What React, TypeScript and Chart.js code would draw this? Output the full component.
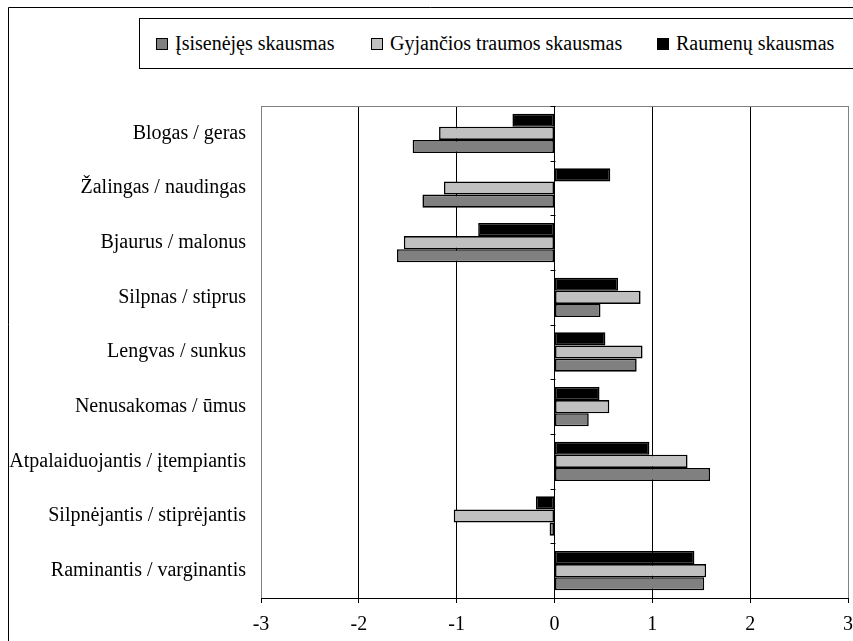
import React, { useEffect, useRef } from 'react';
import { Chart, registerables } from 'chart.js';

Chart.register(...registerables);

const categories = [
  'Blogas / geras',
  'Žalingas / naudingas',
  'Bjaurus / malonus',
  'Silpnas / stiprus',
  'Lengvas / sunkus',
  'Nenusakomas / ūmus',
  'Atpalaiduojantis / įtempiantis',
  'Silpnėjantis / stiprėjantis',
  'Raminantis / varginantis',
];

const seriesNames = ['Įsisenėjęs skausmas', 'Gyjančios traumos skausmas', 'Raumenų skausmas'];
const seriesColors = ['#808080', '#c0c0c0', '#000000'];

const chronicPain = [-1.45, -1.35, -1.61, 0.47, 0.84, 0.35, 1.59, -0.05, 1.53];
const injuryPain = [-1.18, -1.13, -1.54, 0.88, 0.9, 0.56, 1.36, -1.03, 1.55];
const musclePain = [-0.43, 0.57, -0.78, 0.65, 0.52, 0.46, 0.97, -0.19, 1.43];

const xTicks = [-3, -2, -1, 0, 1, 2, 3];

const FONT_FAMILY = '"Liberation Serif", "Times New Roman", serif';

const decorPlugin = {
  id: 'decor',
  beforeDatasetsDraw(chart: any) {
    const { ctx, chartArea: a, scales } = chart;
    ctx.save();
    ctx.lineWidth = 1;
    // top border of plot area
    ctx.strokeStyle = '#808080';
    const ty = Math.round(a.top) + 0.5;
    ctx.beginPath();
    ctx.moveTo(a.left, ty);
    ctx.lineTo(a.right, ty);
    ctx.stroke();
    // tick marks on the zero line at category boundaries
    const x0 = Math.round(scales.x.getPixelForValue(0)) + 0.5;
    const n = categories.length;
    const yScale = scales.y;
    ctx.strokeStyle = '#000';
    for (let k = 0; k <= n; k++) {
      let y;
      if (k === 0) y = a.top;
      else if (k === n) y = a.bottom;
      else y = (yScale.getPixelForTick(k - 1) + yScale.getPixelForTick(k)) / 2;
      y = Math.round(y) + 0.5;
      ctx.beginPath();
      ctx.moveTo(x0 - 5, y);
      ctx.lineTo(x0, y);
      ctx.stroke();
    }
    ctx.restore();
  },
  afterDraw(chart: any) {
    const { ctx, width, height } = chart;
    ctx.save();
    ctx.strokeStyle = '#000';
    ctx.lineWidth = 1;
    ctx.beginPath();
    ctx.moveTo(8.5, height);
    ctx.lineTo(8.5, 7.5);
    ctx.lineTo(width, 7.5);
    ctx.stroke();
    ctx.restore();
  },
};

const legendItems = [
  { name: seriesNames[0], color: seriesColors[0], left: 156 },
  { name: seriesNames[1], color: seriesColors[1], left: 371 },
  { name: seriesNames[2], color: seriesColors[2], left: 657 },
];

export default function App() {
  const canvasRef = useRef<HTMLCanvasElement | null>(null);

  useEffect(() => {
    const canvas = canvasRef.current;
    if (!canvas) return;
    const font = { family: FONT_FAMILY, size: 20 };
    const chart = new Chart(canvas, {
      type: 'bar',
      data: {
        labels: categories,
        datasets: [
          { label: seriesNames[2], data: musclePain, backgroundColor: seriesColors[2] },
          { label: seriesNames[1], data: injuryPain, backgroundColor: seriesColors[1] },
          { label: seriesNames[0], data: chronicPain, backgroundColor: seriesColors[0] },
        ].map((d) => ({
          ...d,
          borderColor: '#000',
          borderWidth: 1.6,
          borderSkipped: false,
          barPercentage: 1,
          categoryPercentage: 0.72,
        })),
      },
      options: {
        indexAxis: 'y',
        responsive: false,
        animation: false,
        layout: { padding: { top: 106, right: 5, left: 0, bottom: 0 } },
        plugins: {
          legend: { display: false },
          tooltip: { enabled: false },
        },
        scales: {
          x: {
            type: 'linear',
            min: -3,
            max: 3,
            afterBuildTicks: (s: any) => {
              s.ticks = xTicks.map((v) => ({ value: v }));
            },
            ticks: {
              color: '#000',
              font,
              padding: 10,
              maxRotation: 0,
              callback: (v: any) => String(v),
            },
            grid: {
              color: (c: any) => (c.tick && Math.abs(c.tick.value) === 3 ? '#808080' : '#000'),
              tickColor: '#000',
              tickLength: 5,
              lineWidth: 1,
            },
            border: { color: '#000', width: 1 },
            afterFit: (s: any) => {
              s.height = 43;
              s.paddingLeft = 0;
              s.paddingRight = 0;
            },
          },
          y: {
            ticks: { color: '#000', font, padding: 15 },
            grid: { display: false, drawTicks: false },
            border: { display: false },
            afterFit: (s: any) => {
              s.width = 261;
              s.paddingTop = 0;
              s.paddingBottom = 0;
            },
          },
        },
      },
      plugins: [decorPlugin],
    } as any);
    return () => chart.destroy();
  }, []);

  return (
    <div style={{ position: 'absolute', left: 0, top: 0, width: 853, height: 641, background: '#fff' }}>
      <canvas ref={canvasRef} width={853} height={641} style={{ display: 'block', width: 853, height: 641 }} />
      <div
        style={{
          position: 'absolute',
          left: 139,
          top: 18,
          width: 730,
          height: 51,
          border: '1px solid #000',
          boxSizing: 'border-box',
          background: '#fff',
        }}
      />
      {legendItems.map((it) => (
        <div
          key={it.name}
          style={{
            position: 'absolute',
            left: it.left,
            top: 18,
            height: 51,
            display: 'flex',
            alignItems: 'center',
            fontFamily: FONT_FAMILY,
            fontSize: 20,
            color: '#000',
            whiteSpace: 'nowrap',
          }}
        >
          <span
            style={{
              display: 'inline-block',
              width: 12,
              height: 12,
              boxSizing: 'border-box',
              border: '1.5px solid #000',
              background: it.color,
              marginRight: 7,
            }}
          />
          <span>{it.name}</span>
        </div>
      ))}
    </div>
  );
}
